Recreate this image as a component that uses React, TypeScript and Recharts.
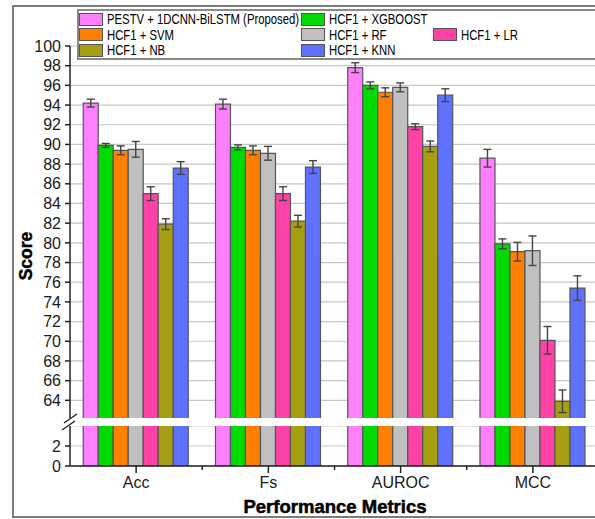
import { BarChart, Bar, XAxis, YAxis, CartesianGrid, ErrorBar } from 'recharts'

// ── data ─────────────────────────────────────────────────────────────
const categories = ['Acc', 'Fs', 'AUROC', 'MCC']

const seriesNames = [
  'PESTV + 1DCNN-BiLSTM (Proposed)',
  'HCF1 + XGBOOST',
  'HCF1 + SVM',
  'HCF1 + RF',
  'HCF1 + LR',
  'HCF1 + NB',
  'HCF1 + KNN',
]
const seriesKeys = ['proposed', 'xgb', 'svm', 'rf', 'lr', 'nb', 'knn']
const seriesColors = ['#FF80FF', '#00DA00', '#FF8000', '#C0C0C0', '#FF42A6', '#A89E14', '#5F72FF']

const proposedScore = [94.2, 94.1, 97.8, 88.6]
const xgbScore = [89.9, 89.7, 96.0, 79.9]
const svmScore = [89.4, 89.4, 95.3, 79.1]
const rfScore = [89.5, 89.1, 95.8, 79.2]
const lrScore = [85.0, 85.0, 91.8, 70.1]
const nbScore = [81.9, 82.2, 89.8, 63.9]
const knnScore = [87.6, 87.7, 95.0, 75.4]

const proposedErr = [0.4, 0.5, 0.5, 0.9]
const xgbErr = [0.2, 0.25, 0.35, 0.5]
const svmErr = [0.45, 0.45, 0.45, 0.95]
const rfErr = [0.8, 0.7, 0.45, 1.5]
const lrErr = [0.7, 0.7, 0.3, 1.4]
const nbErr = [0.55, 0.6, 0.55, 1.15]
const knnErr = [0.65, 0.65, 0.65, 1.25]

const scores = [proposedScore, xgbScore, svmScore, rfScore, lrScore, nbScore, knnScore]
const errors = [proposedErr, xgbErr, svmErr, rfErr, lrErr, nbErr, knnErr]

// broken y axis: upper part 62..100, lower part 0..4
const upperTicks = [64, 66, 68, 70, 72, 74, 76, 78, 80, 82, 84, 86, 88, 90, 92, 94, 96, 98, 100]
const lowerTicks = [0, 2]

// legend rows as in the original (indexes into the series)
const legendRows = [[0, 1], [2, 3, 4], [5, 6]]

const data = categories.map((metric, i) => {
  const row: Record<string, string | number> = { metric }
  seriesKeys.forEach((k, s) => {
    row[k] = scores[s][i]
    row[k + 'Err'] = errors[s][i]
  })
  return row
})

// ── layout ───────────────────────────────────────────────────────────
const FONT = "'Liberation Sans', Arial, sans-serif"
const CHART_W = 620
const MARGIN_R = 21
const AXIS_W = 70
const BAND = (CHART_W - MARGIN_R - AXIS_W) / categories.length
const AXIS_COLOR = '#222'
const GRID_COLOR = '#c6c6c6'
const BAR_STROKE = '#555'

const axisStyle = { stroke: AXIS_COLOR, strokeWidth: 1.5 }
const yTickStyle = { fill: '#1a1a1a', fontSize: 16, fontFamily: FONT }

function MetricTick({ x, y, payload }: { x?: number; y?: number; payload?: { value: string } }) {
  const cx = x ?? 0
  const cy = y ?? 0
  return (
    <g>
      {/* small tick on the band boundary */}
      <line x1={cx + BAND / 2} x2={cx + BAND / 2} y1={cy - 11} y2={cy - 7} stroke={AXIS_COLOR} strokeWidth={1.5} />
      <text x={cx} y={cy} dy="0.71em" textAnchor="middle" fill="#1a1a1a" fontSize={16} fontFamily={FONT}>
        {payload?.value}
      </text>
    </g>
  )
}

function LegendBox() {
  const colX = [79, 301, 433]
  return (
    <>
      <div
        style={{
          position: 'absolute', left: 77, top: 9, width: 540, height: 51,
          border: '2px solid #8a8a8a', background: '#fff', boxSizing: 'border-box',
        }}
      />
      {legendRows.map((row, r) =>
        row.map((s, c) => (
          <div key={s} style={{ position: 'absolute', left: colX[c], top: 12 + r * 15.5, height: 14, display: 'flex', alignItems: 'center' }}>
            <div style={{ width: 24, height: 13, background: seriesColors[s], border: '1px solid #555', boxSizing: 'border-box' }} />
            <span style={{ display: 'inline-block', marginLeft: 4, fontSize: 15.5, color: '#000', whiteSpace: 'nowrap', transform: 'scaleX(0.73)', transformOrigin: 'left center' }}>
              {seriesNames[s]}
            </span>
          </div>
        ))
      )}
    </>
  )
}

export default function App() {
  return (
    <div style={{ position: 'fixed', left: 0, top: 0, width: 595, height: 519, overflow: 'hidden', background: '#fff', fontFamily: FONT }}>
      {/* outer frame */}
      <div style={{ position: 'absolute', left: 12, top: 5, width: 600, height: 513, border: '2px solid #7c7c7c', boxSizing: 'border-box' }} />

      {/* lower part 0..4 */}
      <div style={{ position: 'absolute', left: 0, top: 0 }}>
        <BarChart width={CHART_W} height={519} data={data} margin={{ top: 426, right: MARGIN_R, left: 0, bottom: 23 }} barCategoryGap="10%" barGap={0}>
          <CartesianGrid vertical={false} stroke={GRID_COLOR} strokeWidth={1.2} />
          <XAxis
            dataKey="metric" height={30} tickSize={7} tickMargin={4}
            axisLine={axisStyle} tickLine={axisStyle}
            tick={<MetricTick />} interval={0}
          />
          <YAxis
            domain={[0, 4]} ticks={lowerTicks} allowDataOverflow width={AXIS_W} tickSize={5} tickMargin={4} interval={0}
            axisLine={axisStyle} tickLine={axisStyle} tick={yTickStyle}
          />
          {seriesKeys.map((k, s) => (
            <Bar key={k} dataKey={k} fill={seriesColors[s]} stroke={BAR_STROKE} strokeWidth={1.2} isAnimationActive={false} />
          ))}
        </BarChart>
      </div>

      {/* upper part 62..100 */}
      <div style={{ position: 'absolute', left: 0, top: 0 }}>
        <BarChart width={CHART_W} height={430} data={data} margin={{ top: 46, right: MARGIN_R, left: 0, bottom: 10 }} barCategoryGap="10%" barGap={0}>
          <CartesianGrid vertical={false} stroke={GRID_COLOR} strokeWidth={1.2} />
          <XAxis dataKey="metric" hide />
          <YAxis
            domain={[62, 100]} ticks={upperTicks} allowDataOverflow width={AXIS_W} tickSize={5} tickMargin={4} interval={0}
            axisLine={axisStyle} tickLine={axisStyle} tick={yTickStyle}
          />
          {seriesKeys.map((k, s) => (
            <Bar key={k} dataKey={k} fill={seriesColors[s]} stroke={BAR_STROKE} strokeWidth={1.2} isAnimationActive={false}>
              <ErrorBar dataKey={k + 'Err'} width={4} stroke="#444" strokeWidth={1.4} direction="y" />
            </Bar>
          ))}
        </BarChart>
      </div>

      {/* axis break (white gap + slashes) and axis titles */}
      <svg width={595} height={519} style={{ position: 'absolute', left: 0, top: 0, pointerEvents: 'none' }}>
        <rect x={66} y={418} width={540} height={8} fill="#fff" />
        <line x1={64} y1={423} x2={77} y2={414} stroke={AXIS_COLOR} strokeWidth={1.4} />
        <line x1={62} y1={430} x2={75} y2={421} stroke={AXIS_COLOR} strokeWidth={1.4} />
        <text x={335} y={513} textAnchor="middle" fontSize={18.5} fontWeight="bold" fontFamily={FONT} fill="#000" stroke="#000" strokeWidth={0.5}>
          Performance Metrics
        </text>
        <text x={32} y={256} textAnchor="middle" fontSize={17.5} fontWeight="bold" fontFamily={FONT} fill="#000" stroke="#000" strokeWidth={0.4} transform="rotate(-90 32 256)">
          Score
        </text>
      </svg>

      <LegendBox />
    </div>
  )
}
